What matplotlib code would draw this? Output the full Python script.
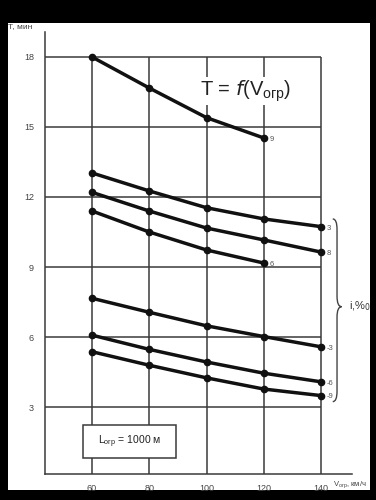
import matplotlib.pyplot as plt
from matplotlib.patches import Rectangle, PathPatch
from matplotlib.path import Path

plt.rcParams['font.family'] = ['Liberation Sans', 'DejaVu Sans']

# data
speeds = [60, 80, 100, 120, 140]
grades = ['9', '3', '8', '6', '-3', '-6', '-9']
times = {
    '9':  [18.0, 16.67, 15.4, 14.53],
    '3':  [13.03, 12.26, 11.54, 11.06, 10.73],
    '8':  [12.2, 11.4, 10.67, 10.16, 9.64],
    '6':  [11.4, 10.5, 9.73, 9.17],
    '-3': [7.66, 7.06, 6.48, 6.02, 5.58],
    '-6': [6.08, 5.47, 4.93, 4.45, 4.08],
    '-9': [5.37, 4.79, 4.25, 3.77, 3.49],
}
xticks = [60, 80, 100, 120, 140]
yticks = [3, 6, 9, 12, 15, 18]

fig = plt.figure(figsize=(3.76, 5.0), dpi=100)
fig.patch.set_facecolor('black')
fig.patches.append(Rectangle((8/376, 1-490/500), 362/376, 467/500,
                             transform=fig.transFigure, facecolor='white',
                             edgecolor='none', zorder=-10))

ax = fig.add_axes([45/376, 1-474/500, 307/376, 442/500])
ax.set_facecolor('none')
ax.set_xlim(43.58, 150.83)
ax.set_ylim(0.13, 19.07)

gc = '#3a3a3a'
for s in ['top', 'right']:
    ax.spines[s].set_visible(False)
for s in ['left', 'bottom']:
    ax.spines[s].set_color(gc)
    ax.spines[s].set_linewidth(1.1)

# grid box
ax.vlines(xticks, 0.13, 18, color=gc, lw=1.1, zorder=1)
ax.hlines(yticks, 43.58, 140, color=gc, lw=1.1, zorder=1)

ax.set_xticks(xticks)
ax.set_yticks(yticks)
ax.tick_params(length=0, labelsize=6.5, colors='#444444')
ax.tick_params(axis='y', pad=8)
ax.tick_params(axis='x', pad=7)

for g in grades:
    y = times[g]
    x = speeds[:len(y)]
    ax.plot(x, y, color='#111111', lw=2.5, marker='o', ms=4.5, zorder=3,
            solid_capstyle='round')
    ax.annotate(g, (x[-1], y[-1]), xytext=(4, -1), textcoords='offset points',
                fontsize=5.5, color='#555555', va='center', ha='left')

# brace for the grade group
x0, xm, xt = 144.1, 145.6, 147.2
ytop, ymid, ybot, r = 11.06, 7.3, 3.23, 0.45
verts = [(x0, ytop), (xm, ytop), (xm, ytop - r),
         (xm, ymid + r), (xm, ymid), (xt, ymid),
         (xm, ymid), (xm, ymid - r),
         (xm, ybot + r), (xm, ybot), (x0, ybot)]
codes = [Path.MOVETO, Path.CURVE3, Path.CURVE3,
         Path.LINETO, Path.CURVE3, Path.CURVE3,
         Path.CURVE3, Path.CURVE3,
         Path.LINETO, Path.CURVE3, Path.CURVE3]
ax.add_patch(PathPatch(Path(verts, codes), fill=False, edgecolor='#444444',
                       lw=1.0, clip_on=False, zorder=2))
ax.text(149.8, 7.3, 'i,%$_{0}$', fontsize=8, color='#333333',
        va='center', ha='left', clip_on=False)

# formula
ax.text(97.7, 16.55, r'T = $\mathit{f}$(V$_{\mathregular{огр}}$)', fontsize=14.5,
        color='#222222', ha='left', va='center', zorder=4,
        bbox=dict(facecolor='white', edgecolor='none', pad=1))

# length box
ax.add_patch(Rectangle((56.75, 0.83), 32.45, 1.4, facecolor='white',
                       edgecolor=gc, lw=1.1, zorder=4))
ax.text(72.97, 1.53, r'L$_{\mathregular{огр}}$ = 1000 м', fontsize=7.5,
        color='#222222', ha='center', va='center', zorder=5)

fig.text(8/376, 1-27/500, 'Т, мин', fontsize=6, color='#444444',
         ha='left', va='center')
fig.text(333/376, 1-485/500, r'V$_{\mathregular{огр}}$, км/ч', fontsize=5.5,
         color='#444444', ha='left', va='center')

fig.savefig('out.png', dpi=100, facecolor=fig.get_facecolor())
